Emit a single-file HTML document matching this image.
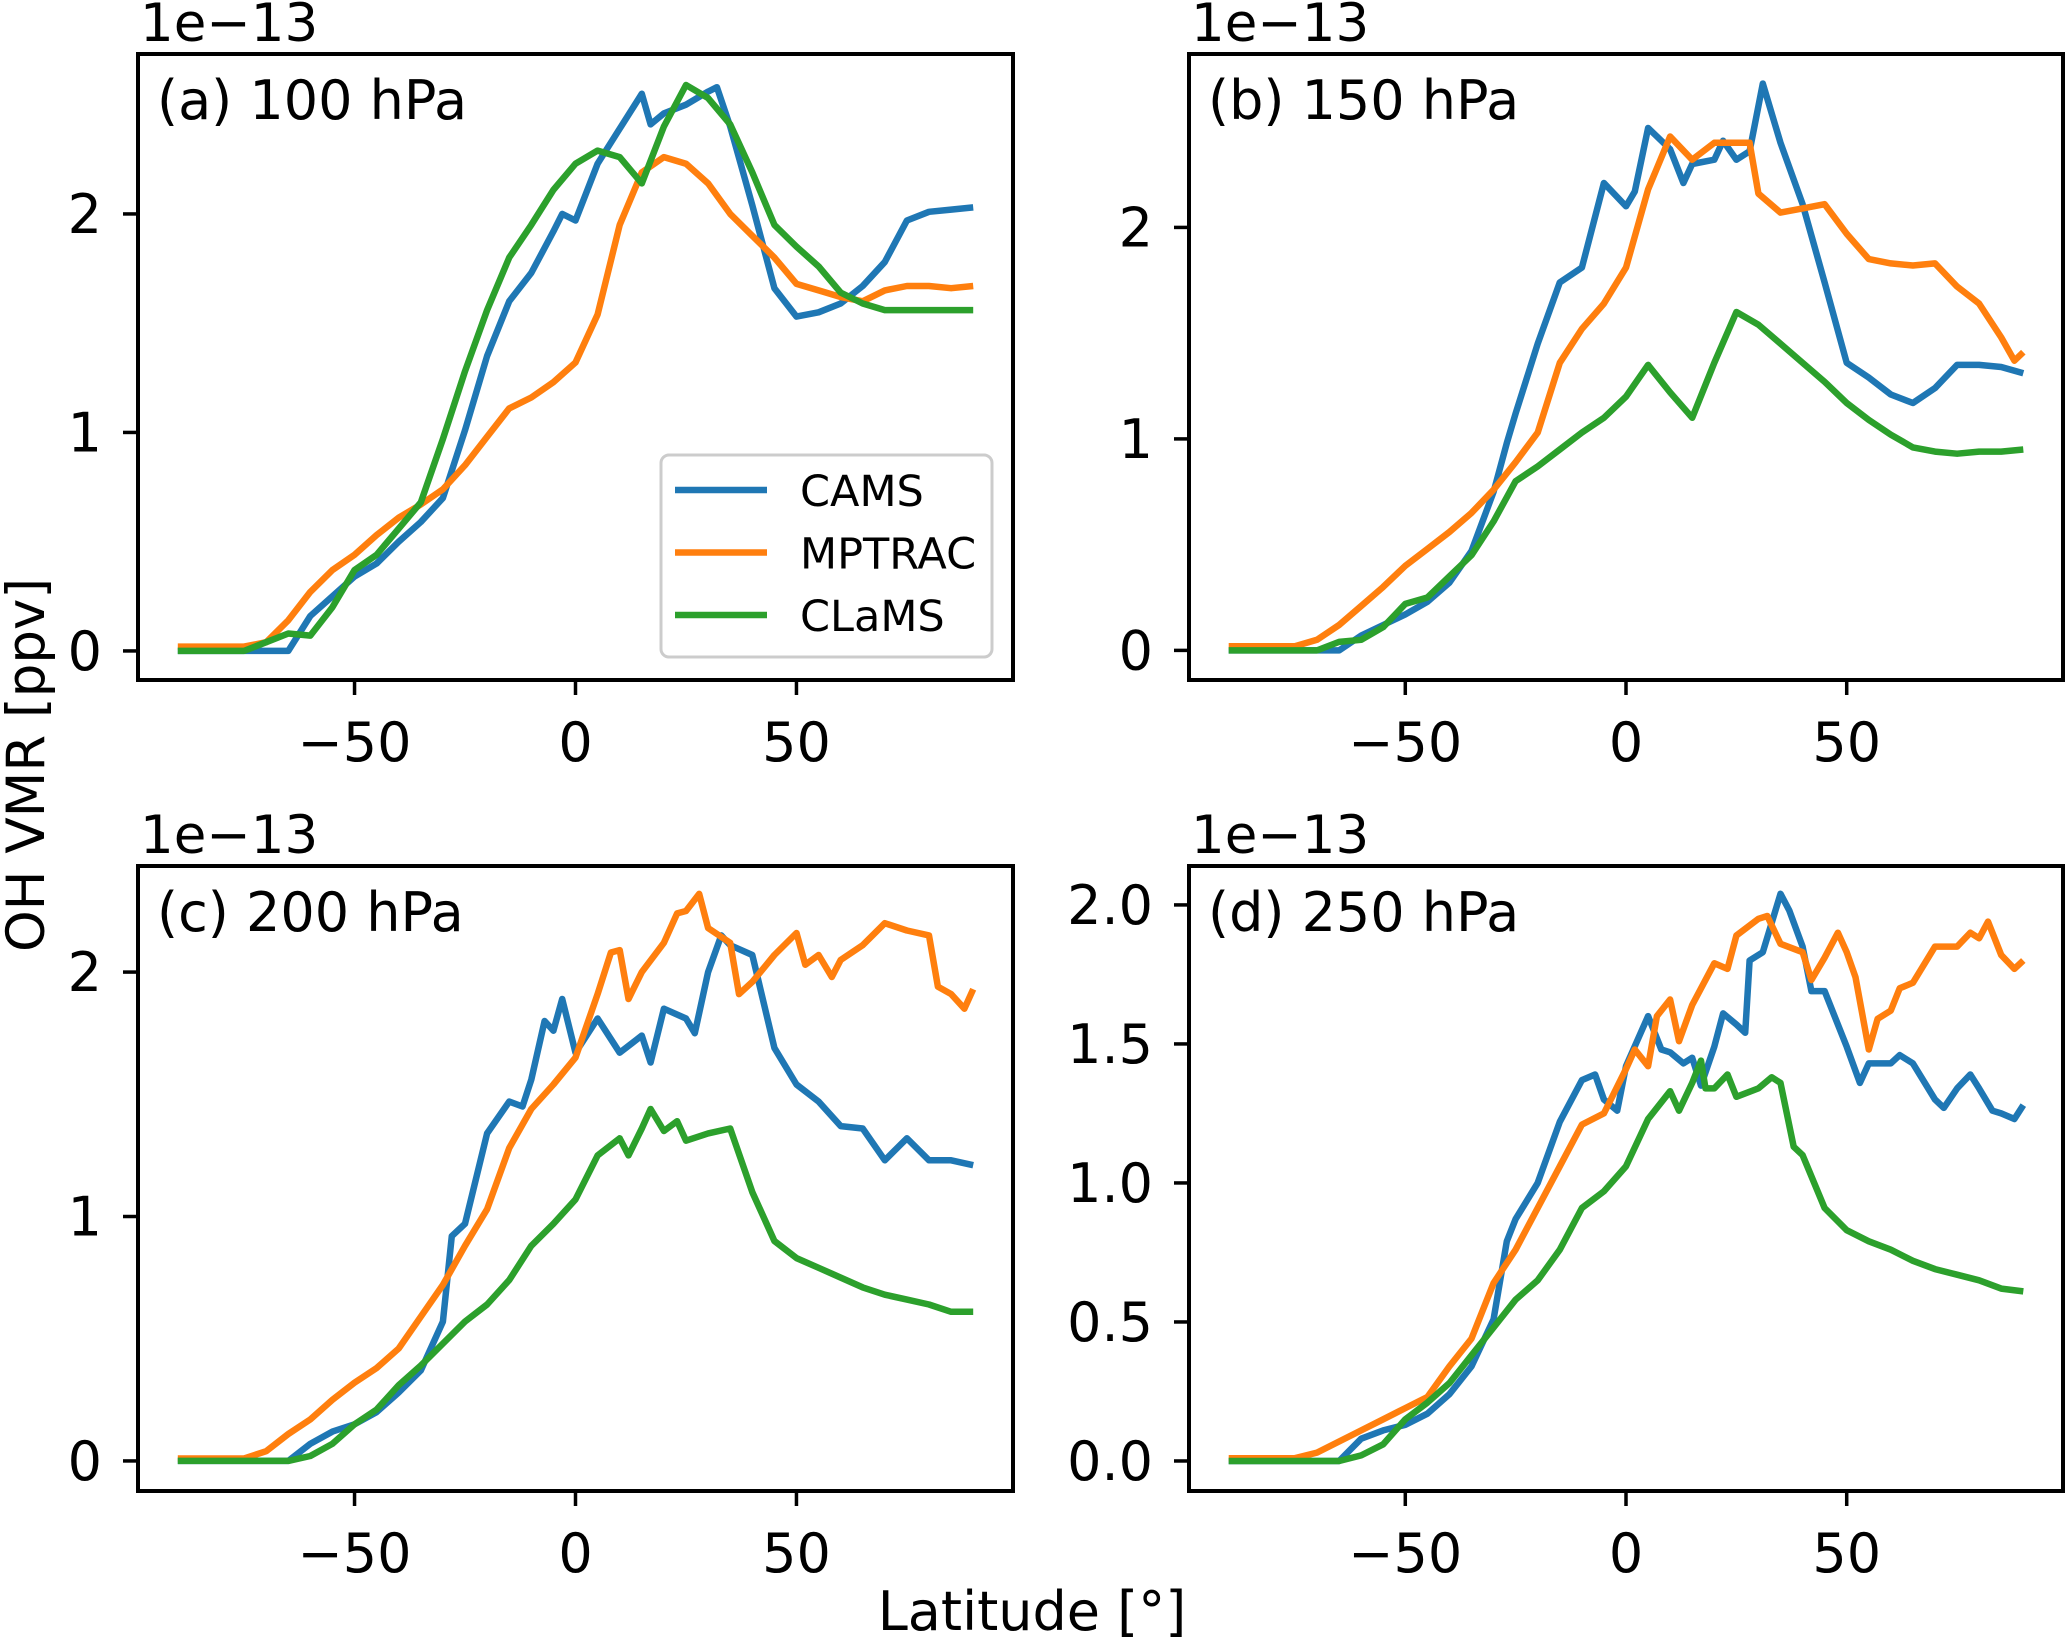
<!DOCTYPE html>
<html><head><meta charset="utf-8"><style>
html,body{margin:0;padding:0;background:#fff;}
svg{display:block;font-family:"DejaVu Sans","Liberation Sans",sans-serif;}
</style></head><body>
<svg id="fig" width="2067" height="1643" viewBox="0 0 2067 1643" xmlns="http://www.w3.org/2000/svg">
<text x="1032" y="1630" font-size="54" text-anchor="middle">Latitude [°]</text>
<text transform="translate(44,765) rotate(-90)" font-size="53" text-anchor="middle">OH VMR [ppv]</text>
</svg>
<script>
// ---- Panel (a) 100 hPa ----
const aCamsLat=[-90,-65,-60,-55,-50,-45,-40,-35,-30,-25,-20,-15,-10,-5,-3,0,5,10,15,17,20,25,30,32,35,40,45,50,55,60,65,70,75,80,85,90];
const aCamsVal=[0,0,0.16,0.25,0.34,0.40,0.50,0.59,0.70,1.01,1.35,1.60,1.73,1.92,2.0,1.97,2.23,2.39,2.55,2.41,2.46,2.50,2.56,2.58,2.40,2.04,1.66,1.53,1.55,1.59,1.67,1.78,1.97,2.01,2.02,2.03];
const aMptLat=[-90,-75,-70,-65,-60,-55,-50,-45,-40,-35,-30,-25,-20,-15,-10,-5,0,5,10,15,20,25,30,35,40,45,50,55,60,65,70,75,80,85,90];
const aMptVal=[0.02,0.02,0.04,0.14,0.27,0.37,0.44,0.53,0.61,0.67,0.74,0.85,0.98,1.11,1.16,1.23,1.32,1.54,1.95,2.19,2.26,2.23,2.14,2.00,1.90,1.80,1.68,1.65,1.62,1.60,1.65,1.67,1.67,1.66,1.67];
const aClaLat=[-90,-75,-70,-65,-60,-55,-50,-45,-40,-35,-30,-25,-20,-15,-10,-5,0,5,10,15,20,25,30,35,40,45,50,55,60,65,70,75,80,85,90];
const aClaVal=[0,0,0.04,0.08,0.07,0.20,0.37,0.44,0.56,0.68,0.97,1.28,1.56,1.80,1.95,2.11,2.23,2.29,2.26,2.14,2.40,2.59,2.53,2.41,2.19,1.95,1.85,1.76,1.64,1.59,1.56,1.56,1.56,1.56,1.56];
// ---- Panel (b) 150 hPa ----
const bCamsLat=[-90,-65,-60,-55,-50,-45,-40,-35,-30,-27,-25,-20,-15,-10,-5,0,2,5,10,13,15,20,22,25,28,31,35,40,45,50,55,60,65,70,75,80,85,90];
const bCamsVal=[0,0,0.07,0.12,0.17,0.23,0.32,0.47,0.75,0.98,1.12,1.45,1.74,1.81,2.21,2.10,2.17,2.47,2.37,2.21,2.30,2.32,2.41,2.32,2.36,2.68,2.40,2.11,1.74,1.36,1.29,1.21,1.17,1.24,1.35,1.35,1.34,1.31];
const bMptLat=[-90,-75,-70,-65,-60,-55,-50,-45,-40,-35,-30,-25,-20,-15,-10,-5,0,5,10,15,20,25,28,30,35,40,45,50,55,60,65,70,75,80,85,88,90];
const bMptVal=[0.02,0.02,0.05,0.12,0.21,0.30,0.40,0.48,0.56,0.65,0.76,0.89,1.03,1.36,1.52,1.64,1.81,2.18,2.43,2.32,2.40,2.40,2.40,2.16,2.07,2.09,2.11,1.97,1.85,1.83,1.82,1.83,1.72,1.64,1.48,1.37,1.41];
const bClaLat=[-90,-70,-65,-60,-55,-50,-45,-40,-35,-30,-25,-20,-15,-10,-5,0,5,10,15,20,25,30,35,40,45,50,55,60,65,70,75,80,85,90];
const bClaVal=[0,0,0.04,0.05,0.11,0.22,0.25,0.35,0.45,0.61,0.80,0.87,0.95,1.03,1.10,1.20,1.35,1.22,1.10,1.36,1.60,1.54,1.45,1.36,1.27,1.17,1.09,1.02,0.96,0.94,0.93,0.94,0.94,0.95];
// ---- Panel (c) 200 hPa ----
const cCamsLat=[-90,-65,-60,-55,-50,-45,-40,-35,-30,-28,-25,-20,-15,-12,-10,-7,-5,-3,0,5,10,15,17,20,25,27,30,33,35,40,45,50,55,60,65,70,75,80,85,90];
const cCamsVal=[0,0,0.07,0.12,0.15,0.20,0.28,0.37,0.57,0.92,0.97,1.34,1.47,1.45,1.56,1.80,1.76,1.89,1.67,1.81,1.67,1.74,1.63,1.85,1.81,1.75,2.00,2.15,2.11,2.07,1.69,1.54,1.47,1.37,1.36,1.23,1.32,1.23,1.23,1.21];
const cMptLat=[-90,-75,-70,-65,-60,-55,-50,-45,-40,-35,-30,-25,-20,-15,-10,-5,0,5,8,10,12,15,20,23,25,28,30,35,37,40,45,50,52,55,58,60,65,70,75,80,82,85,88,90];
const cMptVal=[0.01,0.01,0.04,0.11,0.17,0.25,0.32,0.38,0.46,0.59,0.72,0.88,1.03,1.28,1.44,1.54,1.65,1.91,2.08,2.09,1.89,2.00,2.12,2.24,2.25,2.32,2.18,2.12,1.91,1.96,2.07,2.16,2.03,2.07,1.98,2.05,2.11,2.20,2.17,2.15,1.94,1.91,1.85,1.93];
const cClaLat=[-90,-65,-60,-55,-50,-45,-40,-35,-30,-25,-20,-15,-10,-5,0,5,10,12,15,17,20,23,25,30,35,40,45,50,55,60,65,70,75,80,85,90];
const cClaVal=[0,0,0.02,0.07,0.15,0.21,0.31,0.39,0.48,0.57,0.64,0.74,0.88,0.97,1.07,1.25,1.32,1.25,1.36,1.44,1.35,1.39,1.31,1.34,1.36,1.10,0.90,0.83,0.79,0.75,0.71,0.68,0.66,0.64,0.61,0.61];
// ---- Panel (d) 250 hPa ----
const dCamsLat=[-90,-65,-60,-55,-50,-45,-40,-35,-30,-27,-25,-20,-15,-10,-7,-5,-2,0,5,8,10,13,15,17,20,22,25,27,28,31,35,37,40,42,45,50,53,55,60,62,65,70,72,75,78,80,83,85,88,90];
const dCamsVal=[0,0,0.08,0.11,0.13,0.17,0.24,0.34,0.51,0.79,0.87,1.00,1.22,1.37,1.39,1.30,1.26,1.42,1.60,1.48,1.47,1.43,1.45,1.35,1.49,1.61,1.57,1.54,1.80,1.83,2.04,1.98,1.85,1.69,1.69,1.49,1.36,1.43,1.43,1.46,1.43,1.30,1.27,1.34,1.39,1.34,1.26,1.25,1.23,1.28];
const dMptLat=[-90,-75,-70,-65,-60,-55,-50,-45,-40,-35,-30,-25,-20,-15,-10,-5,0,2,5,7,10,12,15,20,23,25,30,32,35,40,42,45,48,50,52,55,57,60,62,65,70,75,78,80,82,85,88,90];
const dMptVal=[0.01,0.01,0.03,0.07,0.11,0.15,0.19,0.23,0.34,0.44,0.64,0.76,0.91,1.06,1.21,1.25,1.41,1.48,1.42,1.60,1.66,1.51,1.64,1.79,1.77,1.89,1.95,1.96,1.86,1.83,1.73,1.81,1.90,1.83,1.74,1.48,1.59,1.62,1.70,1.72,1.85,1.85,1.90,1.88,1.94,1.82,1.77,1.80];
const dClaLat=[-90,-65,-60,-55,-50,-45,-40,-35,-30,-25,-20,-15,-10,-5,0,5,10,12,15,17,18,20,23,25,30,33,35,38,40,45,50,55,60,65,70,75,80,85,90];
const dClaVal=[0,0,0.02,0.06,0.15,0.21,0.28,0.38,0.48,0.58,0.65,0.76,0.91,0.97,1.06,1.23,1.33,1.26,1.36,1.44,1.34,1.34,1.39,1.31,1.34,1.38,1.36,1.13,1.10,0.91,0.83,0.79,0.76,0.72,0.69,0.67,0.65,0.62,0.61];

const xTicks=[-50,0,50];
const xTickLabels=["\u221250","0","50"];
const abcYTicks=[0,1,2];
const abcYTickLabels=["0","1","2"];
const dYTicks=[0,0.5,1.0,1.5,2.0];
const dYTickLabels=["0.0","0.5","1.0","1.5","2.0"];
const panelTitles=["(a) 100 hPa","(b) 150 hPa","(c) 200 hPa","(d) 250 hPa"];
const seriesNames=["CAMS","MPTRAC","CLaMS"];
const colors=["#1f77b4","#ff7f0e","#2ca02c"];

const NS="http://www.w3.org/2000/svg";
const svg=document.getElementById('fig');
function mk(tag,attrs,parent){const e=document.createElementNS(NS,tag);for(const k in attrs)e.setAttribute(k,attrs[k]);(parent||svg).appendChild(e);return e;}

const panels=[
 {key:'a',L:138,T:54,R:1013,B:680,ymin:-0.133,ymax:2.732,yt:abcYTicks,ytl:abcYTickLabels,s:[[aCamsLat,aCamsVal],[aMptLat,aMptVal],[aClaLat,aClaVal]],legend:true},
 {key:'b',L:1189,T:54,R:2063,B:680,ymin:-0.14,ymax:2.82,yt:abcYTicks,ytl:abcYTickLabels,s:[[bCamsLat,bCamsVal],[bMptLat,bMptVal],[bClaLat,bClaVal]]},
 {key:'c',L:138,T:866,R:1013,B:1491,ymin:-0.123,ymax:2.434,yt:abcYTicks,ytl:abcYTickLabels,s:[[cCamsLat,cCamsVal],[cMptLat,cMptVal],[cClaLat,cClaVal]]},
 {key:'d',L:1189,T:866,R:2063,B:1491,ymin:-0.108,ymax:2.14,yt:dYTicks,ytl:dYTickLabels,s:[[dCamsLat,dCamsVal],[dMptLat,dMptVal],[dClaLat,dClaVal]]}
];

panels.forEach((p,pi)=>{
  const g=mk('g',{});
  
  
  const xs=v=>p.L+(v+99)/198*(p.R-p.L);
  const ys=v=>p.B-(v-p.ymin)/(p.ymax-p.ymin)*(p.B-p.T);
  p.s.forEach((sr,si)=>{
    const pts=sr[0].map((lat,i)=>xs(lat).toFixed(1)+','+ys(sr[1][i]).toFixed(1)).join(' ');
    const pl=mk('polyline',{points:pts,fill:'none',stroke:colors[si],'stroke-width':6.5,'stroke-linejoin':'round'},g);
    
    
  });
  const fr=mk('rect',{x:p.L,y:p.T,width:p.R-p.L,height:p.B-p.T,fill:'none',stroke:'#000','stroke-width':4},g);
  
  
  xTicks.forEach((t,i)=>{
    const x=xs(t);
    const tk=mk('line',{x1:x,x2:x,y1:p.B,y2:p.B+15,stroke:'#000','stroke-width':3.5},g);
    
    
    const tl=mk('text',{x:x,y:p.B+81,'font-size':54,'text-anchor':'middle'},g);
    tl.textContent=xTickLabels[i];
    
    
  });
  p.yt.forEach((t,i)=>{
    const y=ys(t);
    const tk=mk('line',{x1:p.L-15,x2:p.L,y1:y,y2:y,stroke:'#000','stroke-width':3.5},g);
    
    
    const tl=mk('text',{x:p.L-36,y:y+19,'font-size':54,'text-anchor':'end'},g);
    tl.textContent=p.ytl[i];
    
    
  });
  const off=mk('text',{x:p.L+2,y:p.T-13,'font-size':53},g);
  off.textContent='1e\u221213';
  
  
  const tt=mk('text',{x:p.L+19,y:p.T+65,'font-size':54},g);
  tt.textContent=panelTitles[pi];
  
  
  if(p.legend){
    const lg=mk('g',{},g);
    
    
    mk('rect',{x:661,y:455,width:331,height:202,rx:8,fill:'#fff','fill-opacity':0.8,stroke:'#ccc','stroke-width':3},lg);
    seriesNames.forEach((n,i)=>{
      const y=490+i*62.5;
      const ln=mk('line',{x1:675,x2:767,y1:y,y2:y,stroke:colors[i],'stroke-width':6.5},lg);
      
      
      const tx=mk('text',{x:800,y:y+16,'font-size':43},lg);
      tx.textContent=n;
      
      
    });
  }
});
</script>
</body></html>
